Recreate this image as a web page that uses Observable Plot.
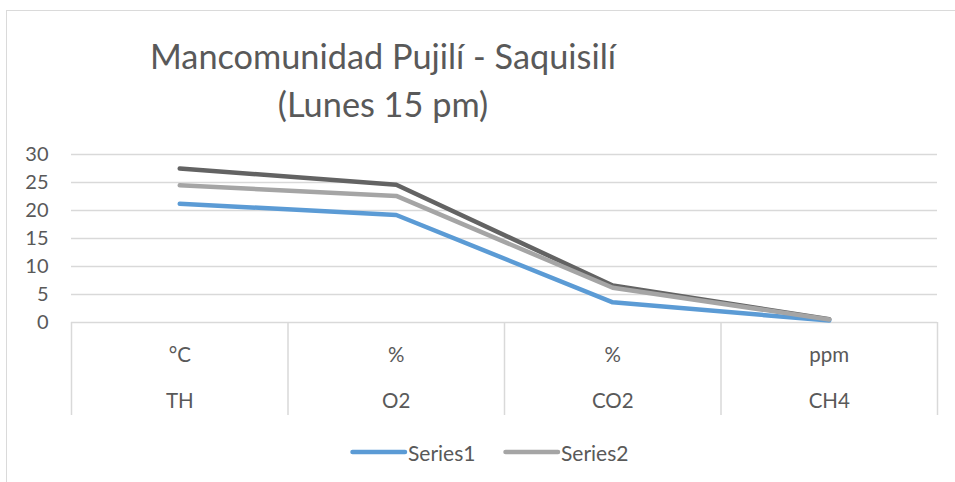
<!DOCTYPE html>
<html>
<head>
<meta charset="utf-8">
<script src="https://cdn.jsdelivr.net/npm/d3@7"></script>
<script src="https://cdn.jsdelivr.net/npm/@observablehq/plot@0.6"></script>
<style>
  html, body { margin: 0; padding: 0; background: #fff; }
  #wrap { position: relative; width: 955px; height: 482px; overflow: hidden; font-family: Lato, "Open Sans", sans-serif; color: #595959; }
  #frame { position: absolute; left: 6px; top: 10px; width: 1200px; height: 1200px; border: 1.5px solid #dadada; box-sizing: border-box; }
  .title { position: absolute; left: 0; width: 766px; text-align: center; font-size: 34.3px; line-height: 41px; white-space: nowrap; }
  #chart { position: absolute; left: 0; top: 0; }
  .leg { position: absolute; top: 440px; height: 24px; display: flex; align-items: center; font-size: 21px; }
  .leg svg { display: block; }
</style>
</head>
<body>
<div id="wrap">
  <div id="frame"></div>
  <div id="chart"></div>
  <div class="title" style="top:35px">Mancomunidad Pujilí - Saquisilí</div>
  <div class="title" style="top:83px">(Lunes 15 pm)</div>
  <div id="legend"></div>
</div>
<script>
const categories = ["TH", "O2", "CO2", "CH4"];
const units = ["°C", "%", "%", "ppm"];
const seriesNames = ["Series1", "Series2", "Series3"];
const series1 = [21.2, 19.2, 3.6, 0.35];
const series2 = [24.5, 22.6, 6.2, 0.55];
const series3 = [27.5, 24.6, 6.6, 0.6];
const yTicks = [0, 5, 10, 15, 20, 25, 30];
const colors = {Series1: "#5B9BD5", Series2: "#A5A5A5", Series3: "#636363"};

const toRows = (name, vals) => vals.map((v, i) => ({series: name, idx: i + 0.5, cat: categories[i], value: v}));
const rows1 = toRows("Series1", series1);
const rows2 = toRows("Series2", series2);
const rows3 = toRows("Series3", series3);
const boundaries = d3.range(categories.length + 1);
const centers = categories.map((c, i) => ({i: i + 0.5, cat: c, unit: units[i]}));

const lineOpts = (c) => ({x: "idx", y: "value", stroke: c, strokeWidth: 4.5, strokeLinecap: "round", strokeLinejoin: "round"});

const chart = Plot.plot({
  width: 955,
  height: 482,
  marginLeft: 71,
  marginRight: 18,
  marginTop: 154,
  marginBottom: 160,
  style: {fontFamily: "Lato, 'Open Sans', sans-serif", fontSize: "20px", color: "#595959", background: "transparent", overflow: "visible"},
  x: {domain: [0, categories.length], axis: null},
  y: {domain: [0, 30], ticks: yTicks, tickSize: 0, tickPadding: 23, label: null},
  marks: [
    Plot.ruleY(yTicks, {stroke: "#d9d9d9", strokeWidth: 1.5}),
    Plot.ruleX(boundaries, {stroke: "#d9d9d9", strokeWidth: 1.5, insetTop: 168, insetBottom: -93}),
    Plot.line(rows3, lineOpts(colors.Series3)),
    Plot.line(rows1, lineOpts(colors.Series1)),
    Plot.line(rows2, lineOpts(colors.Series2)),
    Plot.text(centers, {x: "i", text: "unit", frameAnchor: "bottom", dy: 39, fill: "#595959", fontSize: 20.5}),
    Plot.text(centers, {x: "i", text: "cat", frameAnchor: "bottom", dy: 85.5, fill: "#595959", fontSize: 20.5})
  ]
});
document.getElementById("chart").appendChild(chart);

// Legend (only the first two series are shown in the reference)
const legendItems = [
  {name: seriesNames[0], left: 350},
  {name: seriesNames[1], left: 503}
];
const legend = document.getElementById("legend");
for (const it of legendItems) {
  const div = document.createElement("div");
  div.className = "leg";
  div.style.left = it.left + "px";
  div.innerHTML = `<svg width="58" height="10"><line x1="2.5" y1="5" x2="55" y2="5" stroke="${colors[it.name]}" stroke-width="4.5" stroke-linecap="round"/></svg><span>${it.name}</span>`;
  legend.appendChild(div);
}
</script>
</body>
</html>
